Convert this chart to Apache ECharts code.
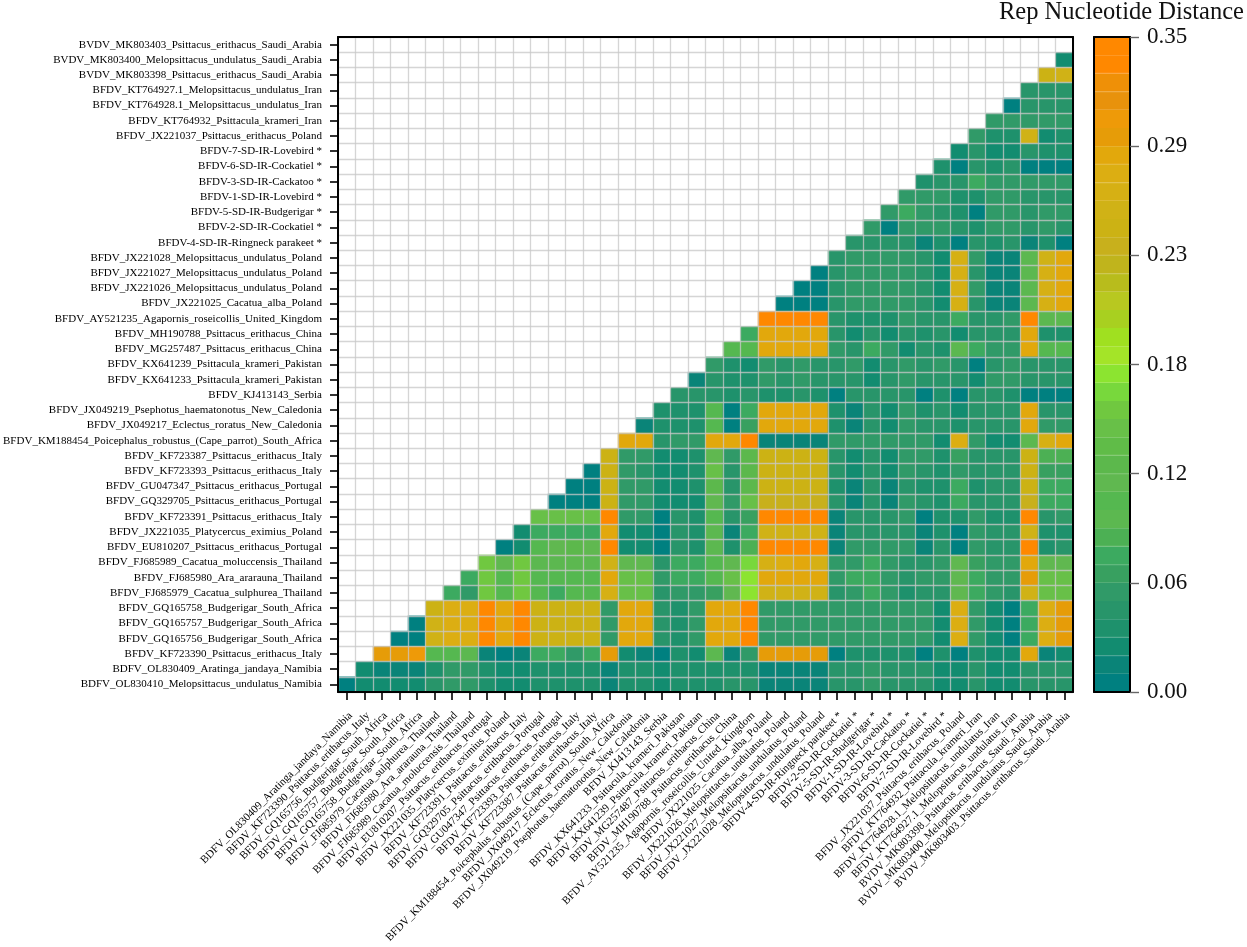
<!DOCTYPE html>
<html>
<head>
<meta charset="utf-8">
<title>Rep Nucleotide Distance</title>
<script src="https://cdn.jsdelivr.net/npm/echarts@6/dist/echarts.min.js"></script>
<style>
  html, body { margin: 0; padding: 0; background: #fff; }
  #main { width: 1247px; height: 947px; }
</style>
</head>
<body>
<div id="main"></div>
<script>
// row labels, top to bottom
const rowLabels = [
  'BVDV_MK803403_Psittacus_erithacus_Saudi_Arabia',
  'BVDV_MK803400_Melopsittacus_undulatus_Saudi_Arabia',
  'BVDV_MK803398_Psittacus_erithacus_Saudi_Arabia',
  'BFDV_KT764927.1_Melopsittacus_undulatus_Iran',
  'BFDV_KT764928.1_Melopsittacus_undulatus_Iran',
  'BFDV_KT764932_Psittacula_krameri_Iran',
  'BFDV_JX221037_Psittacus_erithacus_Poland',
  'BFDV-7-SD-IR-Lovebird *',
  'BFDV-6-SD-IR-Cockatiel *',
  'BFDV-3-SD-IR-Cackatoo *',
  'BFDV-1-SD-IR-Lovebird *',
  'BFDV-5-SD-IR-Budgerigar *',
  'BFDV-2-SD-IR-Cockatiel *',
  'BFDV-4-SD-IR-Ringneck parakeet *',
  'BFDV_JX221028_Melopsittacus_undulatus_Poland',
  'BFDV_JX221027_Melopsittacus_undulatus_Poland',
  'BFDV_JX221026_Melopsittacus_undulatus_Poland',
  'BFDV_JX221025_Cacatua_alba_Poland',
  'BFDV_AY521235_Agapornis_roseicollis_United_Kingdom',
  'BFDV_MH190788_Psittacus_erithacus_China',
  'BFDV_MG257487_Psittacus_erithacus_China',
  'BFDV_KX641239_Psittacula_krameri_Pakistan',
  'BFDV_KX641233_Psittacula_krameri_Pakistan',
  'BFDV_KJ413143_Serbia',
  'BFDV_JX049219_Psephotus_haematonotus_New_Caledonia',
  'BFDV_JX049217_Eclectus_roratus_New_Caledonia',
  'BFDV_KM188454_Poicephalus_robustus_(Cape_parrot)_South_Africa',
  'BFDV_KF723387_Psittacus_erithacus_Italy',
  'BFDV_KF723393_Psittacus_erithacus_Italy',
  'BFDV_GU047347_Psittacus_erithacus_Portugal',
  'BFDV_GQ329705_Psittacus_erithacus_Portugal',
  'BFDV_KF723391_Psittacus_erithacus_Italy',
  'BFDV_JX221035_Platycercus_eximius_Poland',
  'BFDV_EU810207_Psittacus_erithacus_Portugal',
  'BFDV_FJ685989_Cacatua_moluccensis_Thailand',
  'BFDV_FJ685980_Ara_ararauna_Thailand',
  'BFDV_FJ685979_Cacatua_sulphurea_Thailand',
  'BFDV_GQ165758_Budgerigar_South_Africa',
  'BFDV_GQ165757_Budgerigar_South_Africa',
  'BFDV_GQ165756_Budgerigar_South_Africa',
  'BFDV_KF723390_Psittacus_erithacus_Italy',
  'BDFV_OL830409_Aratinga_jandaya_Namibia',
  'BDFV_OL830410_Melopsittacus_undulatus_Namibia'
];

// column labels are the same names, bottom to top, without the last one
const colLabels = rowLabels.slice(0, 42).reverse();

// lower triangle, one list per row from the top; each row ends at the last column
const distRows = [
  [],
  [.02],
  [.245,.26],
  [.045,.04,.04],
  [.003,.045,.04,.04],
  [.05,.05,.055,.055,.055],
  [.05,.03,.03,.26,.02,.03],
  [.025,.04,.02,.02,.04,.035,.035],
  [.03,.008,.045,.035,.04,.008,.005,.003],
  [.035,.045,.04,.07,.05,.05,.055,.05,.05],
  [.05,.05,.05,.035,.035,.05,.05,.04,.04,.04],
  [.05,.07,.05,.04,.035,.005,.05,.05,.04,.05,.05],
  [.05,.002,.05,.05,.05,.04,.035,.05,.05,.04,.05,.04],
  [.04,.04,.04,.04,.01,.035,.005,.045,.035,.04,.01,.03,.005],
  [.04,.05,.05,.05,.05,.04,.025,.265,.05,.01,.01,.09,.26,.285],
  [.002,.04,.05,.05,.05,.05,.04,.025,.265,.045,.01,.01,.09,.265,.285],
  [.002,.002,.04,.05,.05,.05,.05,.04,.025,.265,.05,.01,.01,.09,.265,.285],
  [.002,.002,.002,.04,.05,.05,.05,.05,.04,.025,.265,.045,.01,.01,.09,.27,.285],
  [.345,.345,.345,.345,.04,.03,.03,.03,.05,.04,.04,.07,.04,.04,.05,.345,.09,.09],
  [.07,.285,.285,.285,.285,.04,.02,.04,.02,.04,.03,.04,.02,.04,.04,.04,.285,.035,.035],
  [.10,.105,.285,.285,.285,.285,.05,.045,.07,.05,.025,.04,.035,.09,.07,.05,.05,.29,.105,.10],
  [.05,.03,.02,.05,.04,.05,.04,.04,.05,.02,.045,.05,.045,.05,.04,.005,.04,.05,.04,.04,.04],
  [.015,.045,.03,.03,.05,.04,.05,.04,.04,.04,.02,.045,.05,.045,.04,.04,.02,.05,.05,.04,.04,.04],
  [.04,.04,.04,.03,.04,.03,.03,.04,.03,.005,.04,.04,.04,.04,.005,.03,.002,.04,.04,.03,.005,.005,.003],
  [.03,.03,.03,.10,.005,.07,.285,.285,.285,.285,.03,.015,.04,.02,.05,.03,.04,.02,.04,.04,.04,.285,.04,.04],
  [.01,.03,.03,.03,.105,.008,.065,.285,.285,.285,.285,.03,.015,.04,.02,.05,.04,.04,.03,.04,.04,.04,.29,.05,.05],
  [.285,.285,.04,.05,.05,.285,.285,.345,.012,.012,.012,.012,.05,.05,.05,.05,.05,.05,.02,.28,.05,.02,.02,.09,.27,.285],
  [.25,.05,.05,.025,.025,.03,.11,.05,.12,.25,.25,.25,.25,.04,.02,.04,.02,.05,.05,.03,.06,.04,.04,.04,.25,.08,.08],
  [.002,.25,.05,.04,.025,.025,.03,.14,.04,.12,.245,.245,.245,.245,.04,.02,.04,.02,.05,.04,.03,.05,.04,.04,.04,.25,.06,.06],
  [.005,.005,.25,.05,.05,.025,.025,.03,.12,.04,.12,.245,.245,.245,.245,.03,.015,.04,.015,.04,.03,.03,.07,.03,.04,.04,.245,.07,.07],
  [.002,.005,.005,.25,.05,.05,.025,.025,.025,.115,.05,.14,.24,.24,.24,.24,.04,.015,.04,.015,.05,.04,.03,.07,.04,.04,.04,.24,.075,.075],
  [.145,.145,.145,.145,.345,.05,.05,.005,.04,.035,.10,.04,.06,.34,.34,.34,.34,.015,.04,.04,.04,.05,.005,.03,.03,.05,.03,.03,.34,.04,.05],
  [.02,.07,.07,.07,.07,.285,.02,.02,.003,.04,.035,.09,.015,.07,.26,.26,.26,.26,.015,.04,.04,.04,.04,.015,.03,.002,.05,.04,.04,.26,.03,.03],
  [.005,.02,.105,.11,.12,.11,.345,.02,.02,.005,.04,.035,.09,.03,.08,.345,.345,.345,.345,.015,.05,.05,.05,.05,.015,.04,.005,.05,.04,.04,.345,.03,.04],
  [.15,.11,.15,.09,.09,.09,.09,.26,.11,.11,.04,.07,.07,.10,.11,.16,.265,.28,.285,.265,.05,.05,.07,.05,.04,.04,.05,.11,.06,.05,.05,.285,.11,.11],
  [.075,.15,.105,.15,.10,.10,.10,.10,.285,.145,.145,.05,.07,.07,.10,.145,.17,.285,.285,.285,.29,.05,.07,.07,.05,.04,.05,.05,.11,.07,.05,.05,.295,.145,.145],
  [.075,.05,.15,.105,.15,.105,.075,.105,.105,.265,.145,.145,.04,.05,.05,.06,.11,.172,.26,.26,.26,.26,.04,.05,.07,.05,.03,.04,.04,.11,.07,.05,.04,.26,.14,.14],
  [.25,.28,.28,.34,.285,.345,.25,.25,.25,.25,.05,.285,.285,.04,.035,.05,.285,.285,.34,.05,.05,.05,.05,.05,.05,.05,.05,.05,.05,.02,.28,.05,.02,.005,.07,.28,.295],
  [.002,.26,.28,.28,.34,.285,.345,.25,.245,.245,.25,.05,.285,.285,.04,.03,.05,.285,.285,.34,.05,.05,.05,.05,.05,.05,.05,.05,.05,.05,.02,.28,.05,.02,.005,.07,.28,.295],
  [.003,.005,.255,.28,.28,.34,.285,.345,.25,.245,.245,.25,.05,.285,.285,.04,.035,.05,.285,.285,.34,.05,.05,.05,.05,.05,.05,.05,.05,.05,.05,.02,.28,.05,.02,.005,.07,.28,.295],
  [.295,.30,.31,.105,.105,.09,.01,.008,.015,.07,.07,.05,.07,.30,.02,.015,.002,.03,.02,.09,.015,.05,.30,.30,.30,.30,.005,.035,.035,.035,.035,.003,.03,.005,.035,.02,.02,.29,.015,.02],
  [.025,.015,.015,.015,.035,.05,.05,.035,.02,.02,.035,.035,.035,.035,.015,.035,.035,.025,.035,.035,.03,.035,.035,.015,.015,.015,.015,.04,.04,.05,.04,.04,.04,.02,.025,.04,.02,.02,.04,.04,.04],
  [.002,.025,.02,.02,.02,.04,.05,.05,.035,.02,.025,.035,.035,.035,.035,.015,.035,.035,.025,.035,.035,.035,.04,.04,.015,.015,.015,.015,.04,.04,.05,.04,.04,.04,.02,.025,.04,.02,.02,.04,.04,.04]
];

// colour bar steps, top (0.35) to bottom (0.00)
const levelColors = [
  '#ff8800','#ff8800','#ef9007','#e8920c','#ee9a08','#e69c08','#e2a80c','#dcae12','#d6b014',
  '#d0b216','#ccb214','#c8b01c','#c0b41c','#b8bc1c','#b8c820','#a8d020','#a0e020','#a4e428',
  '#8ce430','#78d83c','#70c840','#68c048','#60bc48','#5cb84c','#60b850','#55b850','#5cb850',
  '#4cb054','#3caa60','#38a060','#309a68','#28956a','#1e916c','#128c70','#0a8478','#008080'
];
const maxDist = 0.35;
const colorTicks = ['0.00', '0.06', '0.12', '0.18', '0.23', '0.29', '0.35'];

const serif = '"Liberation Serif", "Times New Roman", serif';
const step = maxDist / levelColors.length;

const cells = [];
distRows.forEach((row, t) => {
  row.forEach((v, i) => {
    cells.push([colLabels.length - row.length + i, t, v]);
  });
});

const pieces = levelColors.map((color, i) => ({
  min: maxDist - (i + 1) * step,
  max: maxDist - i * step,
  color: color
}));

// colour bar: stacked bars, lowest step first
const barSeries = levelColors.slice().reverse().map(color => ({
  type: 'bar',
  stack: 'levels',
  xAxisIndex: 2,
  yAxisIndex: 2,
  barWidth: '100%',
  silent: true,
  itemStyle: { color: color, borderColor: color, borderWidth: 1.2 },
  data: [step]
}));

const gridLine = { show: true, lineStyle: { color: 'rgba(200,200,200,0.76)', width: 1.3 } };
const frame = { show: true, onZero: false, lineStyle: { color: '#000', width: 2 } };
const tick = { show: true, length: 8, alignWithLabel: true, lineStyle: { color: '#000', width: 1.6 } };

const option = {
  animation: false,
  backgroundColor: '#fff',
  title: {
    text: 'Rep Nucleotide Distance',
    left: 994,
    top: -5,
    textStyle: { fontFamily: serif, fontWeight: 'normal', fontSize: 24.5, color: '#111' }
  },
  grid: [
    { left: 338, top: 37, width: 735, height: 655 },
    { left: 1094, top: 37, width: 36, height: 655 }
  ],
  xAxis: [
    {
      type: 'category', data: colLabels, gridIndex: 0, position: 'bottom', z: 5,
      axisLine: frame, axisTick: tick, splitLine: gridLine,
      axisLabel: {
        interval: 0, rotate: 45, margin: 18, verticalAlign: 'top',
        fontFamily: serif, fontSize: 11, color: '#000'
      }
    },
    {
      type: 'category', data: colLabels, gridIndex: 0, position: 'top', z: 5,
      axisLine: frame, axisTick: { show: false }, axisLabel: { show: false }, splitLine: { show: false }
    },
    {
      type: 'category', data: ['bar'], gridIndex: 1, position: 'bottom', z: 5,
      axisLine: frame, axisTick: { show: false }, axisLabel: { show: false }, splitLine: { show: false }
    },
    {
      type: 'category', data: ['bar'], gridIndex: 1, position: 'top', z: 5,
      axisLine: frame, axisTick: { show: false }, axisLabel: { show: false }, splitLine: { show: false }
    }
  ],
  yAxis: [
    {
      type: 'category', data: rowLabels, gridIndex: 0, position: 'left', inverse: true, z: 5,
      axisLine: frame, axisTick: tick, splitLine: gridLine,
      axisLabel: { interval: 0, margin: 16, fontFamily: serif, fontSize: 11, color: '#000' }
    },
    {
      type: 'category', data: rowLabels, gridIndex: 0, position: 'right', inverse: true, z: 5,
      axisLine: frame, axisTick: { show: false }, axisLabel: { show: false }, splitLine: { show: false }
    },
    {
      type: 'value', gridIndex: 1, position: 'right', min: 0, max: maxDist, interval: maxDist / 6, z: 5,
      axisLine: frame,
      axisTick: { show: true, length: 9, lineStyle: { color: '#666', width: 1.4 } },
      splitLine: { show: false },
      axisLabel: {
        margin: 17, fontFamily: serif, fontSize: 23, color: '#111',
        formatter: (v, i) => colorTicks[i]
      }
    },
    {
      type: 'value', gridIndex: 1, position: 'left', min: 0, max: maxDist, z: 5,
      axisLine: frame, axisTick: { show: false }, axisLabel: { show: false }, splitLine: { show: false }
    }
  ],
  visualMap: { type: 'piecewise', show: false, seriesIndex: 0, dimension: 2, pieces: pieces },
  series: [
    { type: 'heatmap', xAxisIndex: 0, yAxisIndex: 0, data: cells, silent: true, progressive: 0 }
  ].concat(barSeries)
};

const myChart = echarts.init(document.getElementById('main'), null, { renderer: 'canvas' });
myChart.setOption(option);
</script>
</body>
</html>
